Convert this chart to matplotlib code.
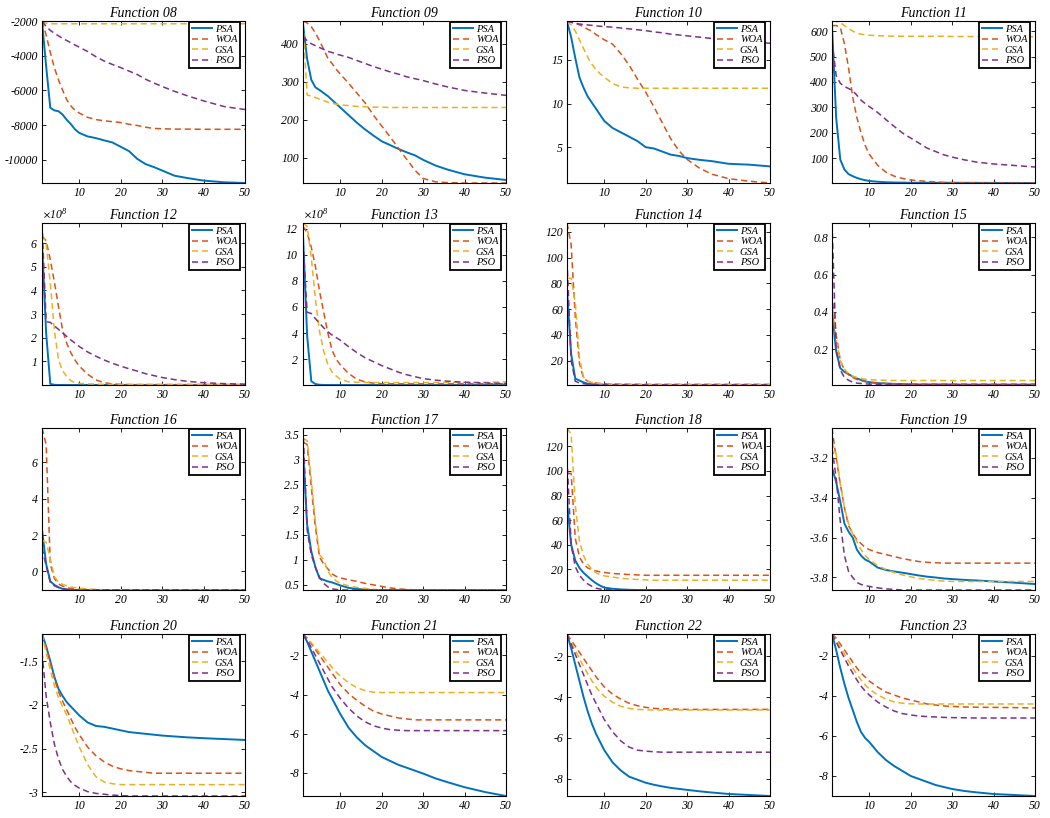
import matplotlib
matplotlib.use('Agg')
import matplotlib.pyplot as plt
from matplotlib.ticker import MultipleLocator, ScalarFormatter, FuncFormatter

plt.rcParams['font.family'] = 'Liberation Serif'
plt.rcParams['font.style'] = 'italic'
plt.rcParams['axes.unicode_minus'] = False
plt.rcParams['mathtext.fontset'] = 'stix'

ITERS = [1, 2, 3, 4, 5, 6, 7, 8, 9, 10, 12, 14, 16, 18, 20, 22, 24, 26, 28, 30, 33, 36, 40, 45, 50]
ALGOS = ['PSA', 'WOA', 'GSA', 'PSO']

F08_PSA = [-2000, -4600, -7000, -7150, -7200, -7400, -7700, -7950, -8250, -8450, -8650, -8750, -8880, -9000, -9250, -9500, -9950, -10250, -10420, -10620, -10920, -11050, -11200, -11300, -11340]
F08_WOA = [-2000, -2800, -3800, -4700, -5400, -6000, -6550, -6900, -7150, -7300, -7550, -7680, -7750, -7800, -7850, -7950, -8020, -8120, -8190, -8210, -8230, -8230, -8240, -8240, -8240]
F08_GSA = [-1990, -2120, -2150, -2150, -2150, -2150, -2150, -2150, -2150, -2150, -2150, -2150, -2150, -2150, -2150, -2150, -2150, -2150, -2150, -2150, -2150, -2150, -2150, -2150, -2150]
F08_PSO = [-2000, -2300, -2530, -2700, -2850, -3000, -3120, -3250, -3380, -3500, -3750, -4050, -4300, -4500, -4680, -4880, -5080, -5350, -5570, -5770, -6050, -6300, -6600, -6930, -7100]

F09_PSA = [452, 360, 305, 285, 278, 270, 262, 252, 242, 232, 212, 192, 174, 158, 143, 133, 123, 114, 106, 94, 79, 68, 56, 47, 41]
F09_WOA = [460, 455, 445, 428, 408, 385, 362, 348, 333, 320, 296, 270, 244, 212, 183, 155, 125, 96, 67, 45, 36, 34, 33, 33, 33]
F09_GSA = [455, 265, 262, 258, 254, 250, 246, 243, 241, 239, 237, 235, 234, 233, 233, 232, 232, 232, 232, 232, 232, 232, 232, 232, 232]
F09_PSO = [420, 408, 400, 395, 390, 385, 380, 377, 373, 370, 364, 356, 348, 340, 333, 326, 320, 313, 308, 303, 294, 286, 277, 270, 264]

F10_PSA = [19.4, 17.6, 15.2, 13.0, 11.8, 10.8, 10.1, 9.4, 8.7, 8.0, 7.2, 6.7, 6.2, 5.7, 5.0, 4.85, 4.5, 4.15, 4.0, 3.75, 3.55, 3.4, 3.1, 3.0, 2.8]
F10_WOA = [19.45, 19.3, 19.2, 19.0, 18.8, 18.5, 18.3, 17.9, 17.6, 17.3, 16.8, 15.7, 14.4, 12.8, 11.3, 9.6, 7.8, 6.0, 4.6, 3.6, 2.6, 1.9, 1.4, 1.1, 0.9]
F10_GSA = [19.4, 19.0, 18.3, 17.3, 16.3, 15.3, 14.5, 13.9, 13.4, 13.0, 12.3, 11.9, 11.8, 11.75, 11.75, 11.75, 11.75, 11.75, 11.75, 11.75, 11.75, 11.75, 11.75, 11.75, 11.75]
F10_PSO = [19.4, 19.3, 19.2, 19.1, 19.05, 19.0, 18.95, 18.9, 18.85, 18.8, 18.75, 18.65, 18.55, 18.45, 18.35, 18.2, 18.1, 17.95, 17.85, 17.75, 17.6, 17.45, 17.3, 17.1, 16.9]

F11_PSA = [620, 260, 94, 55, 37, 29, 22, 17, 13, 10, 7, 5, 4, 3.5, 3, 3, 3, 3, 3, 3, 2.8, 2.6, 2.4, 2.2, 2]
F11_WOA = [622, 622, 615, 550, 455, 340, 260, 200, 150, 115, 72, 45, 29, 20, 14, 11, 8, 6, 4, 3, 2.5, 2.2, 2, 2, 2]
F11_GSA = [640, 638, 634, 622, 611, 600, 592, 588, 586, 584, 582, 581, 580, 580, 580, 580, 580, 580, 580, 579, 579, 579, 578, 578, 578]
F11_PSO = [560, 425, 395, 382, 374, 365, 348, 328, 315, 303, 280, 252, 225, 199, 179, 159, 139, 126, 113, 104, 93, 84, 77, 71, 65]

# functions 12 and 13 in units of 1e8
F12_PSA = [6.0, 2.2, 0.05, 0.01, 0.005, 0.004, 0.003, 0.003, 0.003, 0.003, 0.003, 0.003, 0.003, 0.003, 0.003, 0.003, 0.003, 0.003, 0.003, 0.003, 0.003, 0.003, 0.003, 0.003, 0.003]
F12_WOA = [6.3, 6.1, 5.3, 4.35, 3.3, 2.3, 1.75, 1.35, 1.05, 0.8, 0.46, 0.22, 0.1, 0.05, 0.03, 0.02, 0.02, 0.02, 0.02, 0.02, 0.02, 0.02, 0.02, 0.02, 0.02]
F12_GSA = [6.35, 6.0, 4.3, 2.3, 1.05, 0.6, 0.35, 0.18, 0.1, 0.07, 0.05, 0.04, 0.03, 0.03, 0.03, 0.03, 0.03, 0.03, 0.03, 0.03, 0.03, 0.03, 0.03, 0.03, 0.03]
F12_PSO = [6.85, 2.68, 2.65, 2.5, 2.35, 2.2, 2.05, 1.9, 1.77, 1.63, 1.4, 1.22, 1.06, 0.92, 0.8, 0.69, 0.59, 0.48, 0.4, 0.32, 0.23, 0.16, 0.1, 0.06, 0.04]

F13_PSA = [11.5, 3.8, 0.3, 0.08, 0.03, 0.01, 0.01, 0.01, 0.01, 0.01, 0.01, 0.01, 0.01, 0.01, 0.01, 0.01, 0.01, 0.01, 0.01, 0.01, 0.01, 0.01, 0.01, 0.01, 0.01]
F13_WOA = [12.2, 11.7, 10.6, 9.1, 7.2, 5.6, 4.0, 2.7, 2.0, 1.55, 0.9, 0.45, 0.25, 0.15, 0.1, 0.1, 0.1, 0.1, 0.1, 0.1, 0.1, 0.1, 0.1, 0.1, 0.1]
F13_GSA = [12.45, 12.2, 9.8, 6.6, 4.1, 2.6, 1.6, 1.0, 0.7, 0.45, 0.25, 0.22, 0.2, 0.2, 0.2, 0.2, 0.2, 0.2, 0.2, 0.2, 0.2, 0.2, 0.2, 0.22, 0.25]
F13_PSO = [11.0, 5.6, 5.5, 5.1, 4.75, 4.4, 4.1, 3.85, 3.65, 3.45, 2.95, 2.5, 2.1, 1.8, 1.5, 1.25, 1.0, 0.8, 0.65, 0.5, 0.38, 0.3, 0.22, 0.17, 0.13]

F14_PSA = [75, 25, 6, 4.5, 3, 2, 1.6, 1.4, 1.3, 1.2, 1.1, 1.1, 1.05, 1.05, 1.0, 1.0, 1.0, 1.0, 1.0, 1.0, 1.0, 1.0, 1.0, 1.0, 1.0]
F14_WOA = [127, 110, 54, 18, 6, 4, 3, 2.5, 2.2, 2, 1.8, 1.7, 1.6, 1.6, 1.5, 1.5, 1.5, 1.5, 1.5, 1.5, 1.5, 1.5, 1.5, 1.5, 1.5]
F14_GSA = [84, 84, 65, 22, 7, 4, 3, 2.5, 2, 1.8, 1.6, 1.5, 1.5, 1.5, 1.5, 1.5, 1.5, 1.5, 1.5, 1.5, 1.5, 1.5, 1.5, 1.5, 1.5]
F14_PSO = [98, 20, 4, 2.5, 2, 1.5, 1.3, 1.2, 1.1, 1.05, 1.0, 1.0, 1.0, 1.0, 1.0, 1.0, 1.0, 1.0, 1.0, 1.0, 1.0, 1.0, 1.0, 1.0, 1.0]

F15_PSA = [0.4, 0.19, 0.1, 0.08, 0.068, 0.055, 0.045, 0.037, 0.03, 0.025, 0.02, 0.018, 0.016, 0.015, 0.014, 0.013, 0.013, 0.013, 0.013, 0.013, 0.012, 0.012, 0.012, 0.012, 0.012]
F15_WOA = [0.5, 0.28, 0.14, 0.09, 0.065, 0.05, 0.04, 0.033, 0.028, 0.025, 0.02, 0.018, 0.016, 0.015, 0.015, 0.015, 0.015, 0.015, 0.015, 0.015, 0.015, 0.015, 0.015, 0.015, 0.015]
F15_GSA = [0.46, 0.25, 0.14, 0.095, 0.07, 0.057, 0.05, 0.045, 0.041, 0.039, 0.036, 0.035, 0.034, 0.034, 0.034, 0.034, 0.034, 0.034, 0.034, 0.034, 0.034, 0.034, 0.034, 0.034, 0.034]
F15_PSO = [0.875, 0.2, 0.09, 0.05, 0.035, 0.025, 0.02, 0.018, 0.016, 0.015, 0.013, 0.011, 0.011, 0.011, 0.011, 0.011, 0.011, 0.011, 0.011, 0.011, 0.01, 0.01, 0.01, 0.01, 0.01]

F16_PSA = [2.3, 0.4, -0.55, -0.75, -0.88, -0.97, -1.0, -1.03, -1.03, -1.03, -1.03, -1.03, -1.03, -1.03, -1.03, -1.03, -1.03, -1.03, -1.03, -1.03, -1.03, -1.03, -1.03, -1.03, -1.03]
F16_WOA = [7.9, 7.0, 0.4, -0.4, -0.7, -0.82, -0.9, -0.95, -0.98, -1.0, -1.02, -1.03, -1.03, -1.03, -1.03, -1.03, -1.03, -1.03, -1.03, -1.03, -1.03, -1.03, -1.03, -1.03, -1.03]
F16_GSA = [1.7, 1.6, 0.7, -0.3, -0.6, -0.72, -0.8, -0.86, -0.9, -0.93, -0.97, -1.0, -1.02, -1.02, -1.02, -1.02, -1.02, -1.02, -1.02, -1.02, -1.02, -1.02, -1.02, -1.02, -1.02]
F16_PSO = [1.3, 0.3, -0.6, -0.8, -0.9, -0.97, -1.0, -1.03, -1.03, -1.03, -1.03, -1.03, -1.03, -1.03, -1.03, -1.03, -1.03, -1.03, -1.03, -1.03, -1.03, -1.03, -1.03, -1.03, -1.03]

F17_PSA = [3.2, 1.7, 1.17, 0.85, 0.63, 0.6, 0.57, 0.55, 0.52, 0.49, 0.44, 0.42, 0.405, 0.398, 0.398, 0.398, 0.398, 0.398, 0.398, 0.398, 0.398, 0.398, 0.398, 0.398, 0.398]
F17_WOA = [3.35, 3.3, 2.45, 1.65, 1.05, 0.92, 0.82, 0.72, 0.67, 0.64, 0.6, 0.57, 0.53, 0.5, 0.47, 0.44, 0.42, 0.41, 0.4, 0.4, 0.4, 0.4, 0.4, 0.4, 0.4]
F17_GSA = [3.42, 3.38, 2.6, 1.75, 1.1, 1.0, 0.77, 0.65, 0.58, 0.53, 0.48, 0.45, 0.43, 0.41, 0.4, 0.4, 0.4, 0.4, 0.4, 0.4, 0.4, 0.4, 0.4, 0.4, 0.4]
F17_PSO = [3.63, 1.6, 1.1, 0.85, 0.65, 0.53, 0.46, 0.42, 0.41, 0.398, 0.398, 0.398, 0.398, 0.398, 0.398, 0.398, 0.398, 0.398, 0.398, 0.398, 0.398, 0.398, 0.398, 0.398, 0.398]

F18_PSA = [75, 40, 27, 21, 17, 14, 11, 8.5, 6.5, 5, 4, 3.5, 3.2, 3.0, 3.0, 3.0, 3.0, 3.0, 3.0, 3.0, 3.0, 3.0, 3.0, 3.0, 3.0]
F18_WOA = [98, 98, 45, 30, 24, 21, 19.5, 18.5, 17.8, 17.3, 16.5, 16, 15.6, 15.3, 15, 15, 15, 15, 15, 15, 15, 15, 15, 15, 15]
F18_GSA = [135, 130, 72, 43, 31, 24, 20, 17, 15.5, 14.5, 13.5, 12.5, 12, 11.6, 11.3, 11, 11, 11, 11, 11, 11, 11, 11, 11, 11]
F18_PSO = [110, 40, 22, 15, 11, 8, 6, 4.5, 3.8, 3.4, 3.1, 3.0, 3.0, 3.0, 3.0, 3.0, 3.0, 3.0, 3.0, 3.0, 3.0, 3.0, 3.0, 3.0, 3.0]

F19_PSA = [-3.25, -3.32, -3.42, -3.53, -3.57, -3.6, -3.66, -3.69, -3.71, -3.72, -3.75, -3.762, -3.77, -3.776, -3.783, -3.79, -3.796, -3.8, -3.805, -3.808, -3.812, -3.815, -3.82, -3.826, -3.833]
F19_WOA = [-3.05, -3.2, -3.33, -3.45, -3.54, -3.58, -3.61, -3.63, -3.65, -3.66, -3.675, -3.685, -3.695, -3.705, -3.713, -3.72, -3.724, -3.726, -3.728, -3.728, -3.728, -3.728, -3.728, -3.728, -3.728]
F19_GSA = [-3.12, -3.18, -3.33, -3.45, -3.53, -3.58, -3.62, -3.66, -3.69, -3.71, -3.74, -3.76, -3.775, -3.787, -3.797, -3.805, -3.81, -3.815, -3.818, -3.82, -3.82, -3.82, -3.82, -3.82, -3.82]
F19_PSO = [-3.15, -3.3, -3.52, -3.69, -3.77, -3.8, -3.825, -3.835, -3.84, -3.845, -3.852, -3.857, -3.86, -3.8628, -3.8628, -3.8628, -3.8628, -3.8628, -3.8628, -3.8628, -3.8628, -3.8628, -3.8628, -3.8628, -3.8628]

F20_PSA = [-1.19, -1.33, -1.5, -1.68, -1.82, -1.9, -1.97, -2.02, -2.07, -2.12, -2.2, -2.24, -2.25, -2.27, -2.29, -2.31, -2.32, -2.33, -2.34, -2.35, -2.36, -2.37, -2.38, -2.39, -2.4]
F20_WOA = [-1.19, -1.35, -1.52, -1.7, -1.85, -1.96, -2.06, -2.16, -2.26, -2.34, -2.48, -2.58, -2.65, -2.7, -2.73, -2.75, -2.76, -2.77, -2.78, -2.78, -2.78, -2.78, -2.78, -2.78, -2.78]
F20_GSA = [-1.19, -1.4, -1.6, -1.78, -1.92, -2.02, -2.12, -2.24, -2.36, -2.48, -2.68, -2.82, -2.88, -2.9, -2.91, -2.91, -2.91, -2.91, -2.91, -2.91, -2.91, -2.91, -2.91, -2.91, -2.91]
F20_PSO = [-1.4, -1.9, -2.2, -2.45, -2.62, -2.74, -2.82, -2.88, -2.92, -2.95, -2.99, -3.01, -3.02, -3.03, -3.035, -3.04, -3.04, -3.04, -3.04, -3.04, -3.04, -3.04, -3.04, -3.04, -3.04]

F21_PSA = [-0.9, -1.3, -1.8, -2.3, -2.8, -3.3, -3.8, -4.2, -4.6, -5.0, -5.7, -6.2, -6.6, -6.9, -7.2, -7.4, -7.6, -7.75, -7.9, -8.05, -8.3, -8.5, -8.75, -9.0, -9.2]
F21_WOA = [-0.9, -1.1, -1.4, -1.7, -2.0, -2.3, -2.6, -2.9, -3.2, -3.5, -3.95, -4.3, -4.6, -4.85, -5.0, -5.1, -5.2, -5.25, -5.3, -5.3, -5.3, -5.3, -5.3, -5.3, -5.3]
F21_GSA = [-0.9, -1.1, -1.35, -1.6, -1.85, -2.1, -2.35, -2.6, -2.85, -3.05, -3.4, -3.65, -3.8, -3.88, -3.9, -3.9, -3.9, -3.9, -3.9, -3.9, -3.9, -3.9, -3.9, -3.9, -3.9]
F21_PSO = [-0.9, -1.2, -1.6, -2.0, -2.4, -2.8, -3.2, -3.6, -3.9, -4.2, -4.7, -5.1, -5.4, -5.6, -5.72, -5.8, -5.83, -5.85, -5.85, -5.85, -5.85, -5.85, -5.85, -5.85, -5.85]

F22_PSA = [-0.9, -1.6, -2.4, -3.2, -4.0, -4.7, -5.3, -5.8, -6.2, -6.6, -7.2, -7.6, -7.9, -8.05, -8.2, -8.3, -8.38, -8.45, -8.5, -8.55, -8.62, -8.68, -8.75, -8.8, -8.85]
F22_WOA = [-0.9, -1.2, -1.5, -1.8, -2.1, -2.4, -2.7, -3.0, -3.25, -3.5, -3.85, -4.1, -4.3, -4.42, -4.5, -4.55, -4.57, -4.58, -4.59, -4.6, -4.6, -4.6, -4.6, -4.6, -4.6]
F22_GSA = [-0.9, -1.3, -1.7, -2.1, -2.5, -2.85, -3.2, -3.5, -3.75, -3.95, -4.25, -4.45, -4.55, -4.6, -4.62, -4.63, -4.63, -4.63, -4.63, -4.63, -4.63, -4.63, -4.63, -4.63, -4.63]
F22_PSO = [-0.9, -1.4, -1.9, -2.4, -2.9, -3.4, -3.9, -4.3, -4.7, -5.1, -5.7, -6.15, -6.45, -6.6, -6.65, -6.68, -6.7, -6.7, -6.7, -6.7, -6.7, -6.7, -6.7, -6.7, -6.7]

F23_PSA = [-0.9, -1.7, -2.6, -3.4, -4.1, -4.7, -5.3, -5.8, -6.1, -6.3, -6.8, -7.2, -7.5, -7.75, -8.0, -8.15, -8.3, -8.45, -8.55, -8.65, -8.75, -8.82, -8.9, -8.95, -9.0]
F23_WOA = [-0.9, -1.1, -1.4, -1.7, -2.0, -2.3, -2.6, -2.85, -3.05, -3.25, -3.55, -3.8, -3.95, -4.1, -4.2, -4.3, -4.4, -4.45, -4.5, -4.52, -4.55, -4.56, -4.57, -4.58, -4.6]
F23_GSA = [-0.9, -1.2, -1.55, -1.9, -2.25, -2.6, -2.9, -3.2, -3.45, -3.65, -3.95, -4.15, -4.3, -4.36, -4.39, -4.4, -4.4, -4.4, -4.4, -4.4, -4.4, -4.4, -4.4, -4.4, -4.4]
F23_PSO = [-0.9, -1.3, -1.7, -2.1, -2.5, -2.85, -3.2, -3.5, -3.75, -3.95, -4.3, -4.55, -4.75, -4.88, -4.95, -5.0, -5.03, -5.05, -5.07, -5.08, -5.09, -5.1, -5.1, -5.1, -5.1]

# (title, series, y tick step, scale)
panels = [
    ('08', (F08_PSA, F08_WOA, F08_GSA, F08_PSO), 2000, 1),
    ('09', (F09_PSA, F09_WOA, F09_GSA, F09_PSO), 100, 1),
    ('10', (F10_PSA, F10_WOA, F10_GSA, F10_PSO), 5, 1),
    ('11', (F11_PSA, F11_WOA, F11_GSA, F11_PSO), 100, 1),
    ('12', (F12_PSA, F12_WOA, F12_GSA, F12_PSO), 1e8, 1e8),
    ('13', (F13_PSA, F13_WOA, F13_GSA, F13_PSO), 2e8, 1e8),
    ('14', (F14_PSA, F14_WOA, F14_GSA, F14_PSO), 20, 1),
    ('15', (F15_PSA, F15_WOA, F15_GSA, F15_PSO), 0.2, 1),
    ('16', (F16_PSA, F16_WOA, F16_GSA, F16_PSO), 2, 1),
    ('17', (F17_PSA, F17_WOA, F17_GSA, F17_PSO), 0.5, 1),
    ('18', (F18_PSA, F18_WOA, F18_GSA, F18_PSO), 20, 1),
    ('19', (F19_PSA, F19_WOA, F19_GSA, F19_PSO), 0.2, 1),
    ('20', (F20_PSA, F20_WOA, F20_GSA, F20_PSO), 0.5, 1),
    ('21', (F21_PSA, F21_WOA, F21_GSA, F21_PSO), 2, 1),
    ('22', (F22_PSA, F22_WOA, F22_GSA, F22_PSO), 2, 1),
    ('23', (F23_PSA, F23_WOA, F23_GSA, F23_PSO), 2, 1),
]

colors = ['#0072BD', '#D95319', '#EDB120', '#7E2F8E']
styles = ['-', (0, (4, 2.5)), (0, (4, 2.5)), (0, (4, 2.5))]
widths = [1.4, 1.1, 1.1, 1.1]

W, H = 1050, 818
col_left = [42, 303, 567, 832]
row_top = [21, 223, 428, 634]
ax_w, ax_h = 203, 162

fig = plt.figure(figsize=(10.5, 8.18), dpi=100)

for i, (name, series, step, scale) in enumerate(panels):
    r, c = divmod(i, 4)
    ax = fig.add_axes([col_left[c] / W, 1 - (row_top[r] + ax_h) / H, ax_w / W, ax_h / H])
    lo, hi = None, None
    for vals, lab, col, ls, lw in zip(series, ALGOS, colors, styles, widths):
        y = [v * scale for v in vals]
        ax.plot(ITERS, y, color=col, linestyle=ls, linewidth=lw, label=lab)
        lo = min(y) if lo is None else min(lo, min(y))
        hi = max(y) if hi is None else max(hi, max(y))
    ax.set_xlim(1, 50)
    ax.set_ylim(lo, hi)
    ax.xaxis.set_major_locator(MultipleLocator(10))
    ax.yaxis.set_major_locator(MultipleLocator(step))
    if scale != 1:
        fmt = ScalarFormatter(useMathText=True)
        fmt.set_powerlimits((8, 8))
        ax.yaxis.set_major_formatter(fmt)
        ax.yaxis.get_offset_text().set_fontsize(8.5)
    else:
        ax.yaxis.set_major_formatter(FuncFormatter(lambda v, p: '%g' % round(v, 6)))
    ax.tick_params(direction='in', length=3, width=0.6, top=True, right=True,
                   labelsize=8.5, pad=3)
    for sp in ax.spines.values():
        sp.set_linewidth(0.8)
    ax.set_title('Function ' + name, fontsize=10, pad=3)
    leg = ax.legend(loc='upper right', bbox_to_anchor=(0.975, 0.995), borderaxespad=0,
                    fontsize=7.5, handlelength=1.9, handletextpad=0.3, borderpad=0.25,
                    labelspacing=0.12, fancybox=False, framealpha=1)
    leg.get_frame().set_edgecolor('black')
    leg.get_frame().set_linewidth(1.3)

fig.savefig('out.png', dpi=100)
